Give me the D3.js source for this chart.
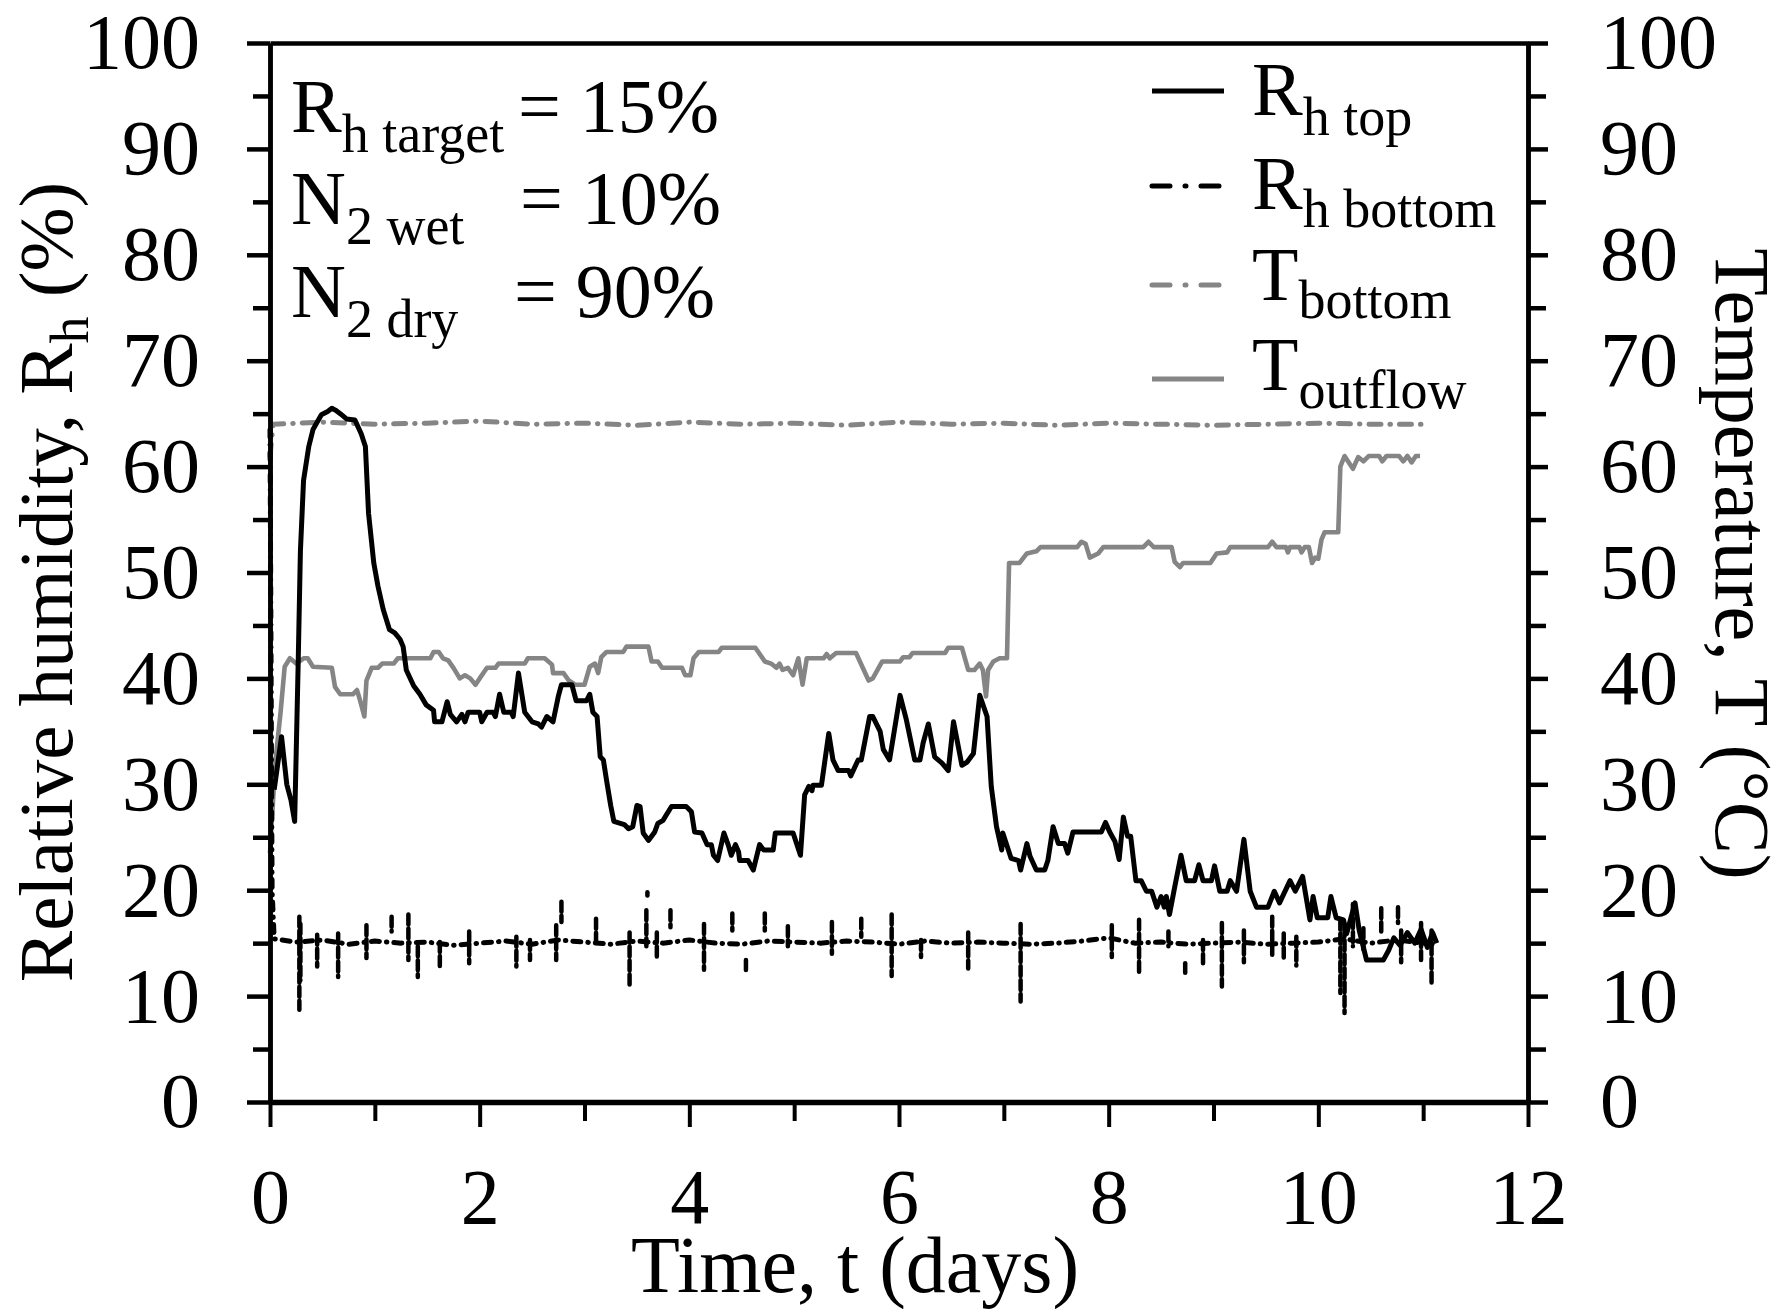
<!DOCTYPE html>
<html>
<meta charset="utf-8">
<style type="text/css">
  body { margin: 0; background: #fff; }
  text { font-family: "Liberation Serif", "Times New Roman", serif; fill: #000; }
</style>
<body>
<svg width="1780" height="1309"></svg>
<script src="https://d3js.org/d3.v7.min.js"></script>
<script>

// values, [t (days), value]
const rhTop = [
  [0.04,29.5],[0.11,34.5],[0.16,30.0],[0.20,28.5],[0.235,26.5],[0.25,33],[0.27,42],[0.29,52],
  [0.32,58.7],[0.37,61.9],[0.41,63.5],[0.49,64.9],[0.55,65.2],[0.59,65.5],[0.63,65.3],[0.67,65.0],
  [0.73,64.5],[0.81,64.4],[0.87,63.1],[0.91,61.9],[0.94,55.6],[0.99,50.9],[1.03,48.7],[1.08,46.5],
  [1.14,44.6],[1.19,44.3],[1.24,43.7],[1.27,43.0],[1.30,40.8],[1.37,39.3],[1.43,38.5],[1.49,37.5],
  [1.56,37.0],[1.57,35.9],[1.64,35.9],[1.69,37.8],[1.72,36.6],[1.78,35.9],[1.83,36.6],[1.86,35.9],
  [1.89,36.8],[2.00,36.8],[2.02,35.9],[2.07,36.8],[2.13,36.8],[2.15,36.4],[2.19,38.5],[2.23,36.8],
  [2.30,36.8],[2.32,36.4],[2.37,40.5],[2.43,36.8],[2.50,35.9],[2.56,35.7],[2.59,35.4],[2.64,36.4],
  [2.70,35.9],[2.75,38.3],[2.78,39.4],[2.88,39.4],[2.92,37.9],[3.02,37.9],[3.05,38.5],[3.08,36.8],
  [3.12,36.4],[3.15,32.6],[3.18,32.3],[3.21,30.4],[3.25,28.0],[3.28,26.5],[3.38,26.2],[3.42,25.8],
  [3.46,26.0],[3.50,28.0],[3.53,27.9],[3.56,25.4],[3.61,24.7],[3.67,25.5],[3.70,26.3],[3.75,26.6],
  [3.78,27.1],[3.83,27.9],[3.97,27.9],[4.02,27.4],[4.05,25.5],[4.12,25.4],[4.17,24.3],[4.21,24.3],
  [4.23,23.3],[4.27,22.8],[4.33,25.4],[4.37,24.3],[4.40,23.3],[4.44,24.3],[4.47,23.6],[4.48,22.8],
  [4.56,22.8],[4.61,21.9],[4.67,24.3],[4.71,23.8],[4.80,23.8],[4.82,25.4],[4.99,25.4],[5.06,23.3],
  [5.10,29.0],[5.14,29.8],[5.17,29.4],[5.18,29.9],[5.26,29.9],[5.33,34.8],[5.37,32.3],[5.42,31.3],
  [5.52,31.3],[5.54,30.8],[5.61,32.3],[5.64,32.3],[5.72,36.4],[5.75,36.4],[5.82,35.0],[5.85,33.3],
  [5.91,32.3],[6.01,38.4],[6.07,36.1],[6.15,32.3],[6.20,32.3],[6.23,33.9],[6.28,35.7],[6.34,32.6],
  [6.41,32.0],[6.47,31.3],[6.52,35.9],[6.60,31.8],[6.65,32.1],[6.71,32.9],[6.77,38.4],[6.84,36.4],
  [6.88,29.8],[6.93,26.0],[6.98,23.8],[6.99,25.4],[7.07,23.0],[7.14,22.8],[7.16,21.9],[7.22,24.4],
  [7.25,23.2],[7.31,21.9],[7.39,21.9],[7.42,22.8],[7.47,26.0],[7.52,24.4],[7.58,24.4],[7.61,23.5],
  [7.66,25.5],[7.93,25.5],[7.97,26.4],[8.01,25.5],[8.06,24.6],[8.10,22.9],[8.14,26.9],[8.18,25.1],
  [8.21,25.1],[8.26,20.9],[8.31,20.9],[8.36,19.9],[8.41,19.9],[8.46,18.4],[8.50,19.4],[8.53,18.4],
  [8.55,19.4],[8.58,17.7],[8.63,20.3],[8.69,23.3],[8.74,20.9],[8.82,20.9],[8.86,22.4],[8.90,20.9],
  [8.98,20.9],[9.01,22.3],[9.06,19.9],[9.13,19.9],[9.16,20.9],[9.22,19.9],[9.29,24.8],[9.35,19.9],
  [9.41,18.4],[9.52,18.4],[9.58,19.9],[9.63,18.8],[9.73,20.9],[9.78,19.9],[9.85,21.3],[9.92,17.2],
  [9.95,19.4],[9.99,17.4],[10.09,17.4],[10.12,19.4],[10.17,17.4],[10.24,17.2],[10.27,15.9],[10.35,18.8],
  [10.39,16.2],[10.46,13.4],[10.62,13.4],[10.67,14.3],[10.72,15.5],[10.78,14.8],[10.85,16.0],[10.92,15.0],
  [10.98,16.3],[11.04,14.6],[11.09,16.0],[11.13,15.0]
];

const rhBottom = [
  [0,63.5],[0.02,20],[0.04,15.4],[0.25,15.1],[0.5,15.3],[0.75,14.9],[1.0,15.2],[1.25,15.0],
  [1.5,15.1],[1.75,14.8],[2.0,15.0],[2.25,15.2],[2.5,14.9],[2.75,15.3],[3.0,15.1],[3.25,14.9],
  [3.5,15.2],[3.75,15.0],[4.0,15.3],[4.25,15.0],[4.5,14.9],[4.75,15.2],[5.0,15.1],[5.25,15.0],
  [5.5,15.2],[5.75,15.1],[6.0,14.9],[6.25,15.2],[6.5,15.0],[6.75,15.1],[7.0,15.0],[7.25,14.9],
  [7.5,15.0],[7.75,15.2],[8.0,15.5],[8.25,15.0],[8.5,15.1],[8.75,14.9],[9.0,15.0],[9.25,15.1],
  [9.5,14.9],[9.75,15.0],[10.0,15.1],[10.25,15.4],[10.5,15.0],[10.75,15.3],[11.0,15.0],[11.12,14.9]
];

// short excursions of the bottom sensor, [t, high, low]
const rhBottomSpikes = [
  [0.28,17.5,8.7],[0.29,16.8,11.5],[0.45,15.8,12.8],[0.65,15.9,11.8],[0.92,16.7,13.6],[1.16,17.5,16.1],
  [1.32,17.7,13.4],[1.41,14.7,11.8],[1.62,15.1,12.5],[1.90,16.1,13.1],[2.35,15.6,12.8],[2.48,15.3,13.4],
  [2.73,16.7,13.4],[2.78,18.9,17.0],[3.11,17.3,14.7],[3.43,16.0,10.9],[3.59,18.1,14.7],[3.60,19.8,19.5],
  [3.69,16.0,13.7],[3.82,18.1,16.5],[4.14,16.8,12.5],[4.41,17.8,16.2],[4.54,13.4,12.2],[4.72,17.8,16.2],
  [4.94,16.6,14.7],[5.36,17.0,14.0],[5.64,17.3,15.6],[5.93,17.7,11.9],[6.21,15.3,13.7],[6.66,16.0,12.6],
  [7.16,16.8,9.5],[8.03,16.7,13.7],[8.29,17.2,12.2],[8.57,16.1,14.7],[8.73,13.1,12.2],[8.90,15.3,13.1],
  [9.08,16.9,10.9],[9.29,16.2,13.2],[9.56,17.5,13.7],[9.67,15.9,13.4],[9.79,15.6,12.9],[10.21,17.2,10.3],
  [10.25,16.6,8.4],[10.33,18.7,14.7],[10.43,16.4,14.4],[10.60,18.3,16.1],[10.76,18.4,16.9],[10.79,16.2,13.2],
  [10.98,16.9,13.4],[11.08,16.2,11.2]
];

const tBottom = [
  [0,61],[0.03,64.0],[0.5,64.2],[1.0,64.0],[1.5,64.1],[2.0,64.3],[2.5,64.0],[3.0,64.1],[3.5,63.9],
  [4.0,64.2],[4.5,64.0],[5.0,64.1],[5.5,63.9],[6.0,64.2],[6.5,64.0],[7.0,64.1],[7.5,63.9],[8.0,64.1],
  [8.5,64.0],[9.0,63.9],[9.5,64.0],[10.0,64.1],[10.5,64.0],[11.03,64.0]
];

const tOutflow = [
  [0.0,23.5],[0.05,32],[0.10,36.7],[0.14,41.1],[0.19,41.9],[0.25,41.4],[0.32,41.9],[0.36,41.9],
  [0.41,41.1],[0.59,41.0],[0.62,39.2],[0.67,38.5],[0.79,38.5],[0.83,38.9],[0.86,37.9],[0.90,36.4],
  [0.92,39.8],[0.97,41.0],[1.03,41.0],[1.07,41.4],[1.18,41.4],[1.22,41.9],[1.53,41.9],[1.56,42.5],
  [1.61,42.5],[1.65,41.9],[1.70,41.7],[1.75,41.0],[1.81,40.0],[1.86,40.3],[1.91,40.0],[1.96,39.4],
  [2.00,40.0],[2.07,41.0],[2.15,41.0],[2.18,41.4],[2.43,41.4],[2.46,41.9],[2.62,41.9],[2.69,41.3],
  [2.70,40.5],[2.80,40.5],[2.85,39.8],[2.91,39.4],[3.00,39.4],[3.05,41.1],[3.10,41.4],[3.13,40.5],
  [3.16,42.0],[3.21,42.5],[3.37,42.5],[3.40,43.0],[3.61,43.0],[3.64,41.6],[3.70,41.6],[3.74,41.0],
  [3.93,41.0],[3.96,40.3],[4.01,40.3],[4.04,41.9],[4.09,42.5],[4.28,42.5],[4.31,42.9],[4.63,42.9],
  [4.72,41.6],[4.78,41.4],[4.83,41.0],[4.86,41.4],[4.89,40.8],[4.94,41.0],[4.99,40.3],[5.04,41.9],
  [5.08,39.4],[5.12,41.9],[5.28,41.9],[5.31,42.3],[5.34,41.9],[5.40,42.4],[5.59,42.4],[5.71,39.8],
  [5.75,40.0],[5.84,41.6],[6.01,41.6],[6.04,42.0],[6.10,42.0],[6.13,42.4],[6.44,42.4],[6.47,42.9],
  [6.60,42.9],[6.66,40.8],[6.72,40.8],[6.77,41.4],[6.80,40.8],[6.83,38.3],[6.85,40.8],[6.90,41.6],
  [6.96,41.9],[7.03,41.9],[7.05,50.9],[7.15,50.9],[7.22,51.8],[7.31,52.0],[7.35,52.4],[7.70,52.4],
  [7.74,52.9],[7.78,52.7],[7.82,51.4],[7.90,51.8],[7.95,52.4],[8.33,52.4],[8.38,52.9],[8.43,52.4],
  [8.60,52.4],[8.63,51.0],[8.68,50.5],[8.71,50.9],[8.97,50.9],[9.03,51.8],[9.13,51.9],[9.16,52.4],
  [9.52,52.4],[9.56,52.9],[9.60,52.4],[9.69,52.4],[9.71,51.9],[9.73,52.4],[9.82,52.4],[9.84,51.9],
  [9.87,52.4],[9.91,52.4],[9.94,50.9],[9.97,51.4],[10.0,51.3],[10.03,53.1],[10.06,53.8],[10.19,53.8],
  [10.21,60.0],[10.25,61.0],[10.33,59.8],[10.38,60.9],[10.43,60.5],[10.48,61.0],[10.58,61.0],[10.61,60.5],
  [10.65,61.0],[10.77,61.0],[10.81,60.5],[10.85,61.0],[10.89,60.4],[10.93,61.0],[10.97,61.0]
];

const xTicks = [0, 2, 4, 6, 8, 10, 12];
const xMinorTicks = [1, 3, 5, 7, 9, 11];
const yTicks = [0, 10, 20, 30, 40, 50, 60, 70, 80, 90, 100];
const yMinorTicks = [5, 15, 25, 35, 45, 55, 65, 75, 85, 95];

const legendLabels = [['R', 'h top'], ['R', 'h bottom'], ['T', 'bottom'], ['T', 'outflow']];
const noteLabels = [['R', 'h target', '= 15%'], ['N', '2 wet', '= 10%'], ['N', '2 dry', '= 90%']];

const svg = d3.select('svg');
const width = +svg.attr('width');
const height = +svg.attr('height');
const margin = {top: 43, right: 252, bottom: 207, left: 270};
const GREY = '#858585';
const FONT = '"Liberation Serif", "Times New Roman", serif';

svg.append('rect').attr('width', width).attr('height', height).attr('fill', '#fff');

const x = d3.scaleLinear().domain([0, 12]).range([margin.left, width - margin.right]);
const y = d3.scaleLinear().domain([0, 100]).range([height - margin.bottom, margin.top]);

// data lines first, frame on top
const line = d3.line().x(d => x(d[0])).y(d => y(d[1]));
const plotG = svg.append('g').attr('fill', 'none').attr('stroke-linejoin', 'round');

plotG.append('path').datum(tBottom).attr('d', line)
  .attr('stroke', GREY).attr('stroke-width', 5)
  .attr('stroke-linecap', 'round').attr('stroke-dasharray', '12,9,0.5,9');
plotG.append('path').datum(tOutflow).attr('d', line)
  .attr('stroke', GREY).attr('stroke-width', 4.6);
plotG.append('path').datum(rhTop).attr('d', line)
  .attr('stroke', '#000').attr('stroke-width', 5);
plotG.append('path').datum(rhBottom).attr('d', line)
  .attr('stroke', '#000').attr('stroke-width', 5)
  .attr('stroke-linecap', 'round').attr('stroke-dasharray', '8,7,0.5,7');
plotG.selectAll('.spike').data(rhBottomSpikes).join('line')
  .attr('class', 'spike')
  .attr('x1', d => x(d[0])).attr('x2', d => x(d[0]))
  .attr('y1', d => y(d[1])).attr('y2', d => y(d[2]))
  .attr('stroke', '#000').attr('stroke-width', 4.5)
  .attr('stroke-linecap', 'round').attr('stroke-dasharray', '10,4');

// axes
function styleAxis(g, w) {
  g.attr('font-family', FONT).attr('font-size', 78);
  g.selectAll('.tick line').attr('stroke-width', w);
  g.select('.domain').attr('stroke-width', w);
}

svg.append('g').attr('transform', `translate(${x(0)},0)`)
  .call(d3.axisLeft(y).tickValues(yTicks).tickSize(23).tickSizeOuter(0).tickPadding(47))
  .call(g => styleAxis(g, 4.5));
svg.append('g').attr('transform', `translate(${x(0)},0)`)
  .call(d3.axisLeft(y).tickValues(yMinorTicks).tickSize(17).tickSizeOuter(0).tickFormat(''))
  .call(g => styleAxis(g, 4.5));
svg.append('g').attr('transform', `translate(${x(12)},0)`)
  .call(d3.axisRight(y).tickValues(yTicks).tickSize(20).tickSizeOuter(0).tickPadding(52))
  .call(g => styleAxis(g, 4.5));
svg.append('g').attr('transform', `translate(${x(12)},0)`)
  .call(d3.axisRight(y).tickValues(yMinorTicks).tickSize(18).tickSizeOuter(0).tickFormat(''))
  .call(g => styleAxis(g, 4.5));
svg.append('g').attr('transform', `translate(0,${y(0)})`)
  .call(d3.axisBottom(x).tickValues(xTicks).tickSize(25).tickSizeOuter(0).tickPadding(41))
  .call(g => styleAxis(g, 4))
  .call(g => g.select('.domain').attr('stroke-width', 5.5));
svg.append('g').attr('transform', `translate(0,${y(0)})`)
  .call(d3.axisBottom(x).tickValues(xMinorTicks).tickSize(19).tickSizeOuter(0).tickFormat(''))
  .call(g => styleAxis(g, 4));
svg.append('g').attr('transform', `translate(0,${y(100)})`)
  .call(d3.axisTop(x).tickValues([]).tickSizeOuter(0))
  .call(g => styleAxis(g, 4.5));

// text with a subscript part
function subText(g, px, py, main, sub, drop) {
  const t = g.append('text').attr('x', px).attr('y', py).attr('font-size', 76);
  t.append('tspan').text(main);
  t.append('tspan').attr('font-size', 54).attr('dy', drop).text(sub);
  return t;
}

// axis titles
svg.append('text').attr('x', 855).attr('y', 1292)
  .attr('text-anchor', 'middle').attr('font-size', 80).text('Time, t (days)');

const leftTitle = svg.append('text')
  .attr('transform', 'translate(72,582) rotate(-90)')
  .attr('text-anchor', 'middle').attr('font-size', 77);
leftTitle.append('tspan').text('Relative humidity, R');
leftTitle.append('tspan').attr('font-size', 54).attr('dy', 16).text('h');
leftTitle.append('tspan').attr('dy', -16).text(' (%)');

svg.append('text')
  .attr('transform', 'translate(1716,564) rotate(90)')
  .attr('text-anchor', 'middle').attr('font-size', 78).text('Temperature, T (°C)');

// legend
const legendStyle = [
  {stroke: '#000', dash: null},
  {stroke: '#000', dash: '18,15,1,15'},
  {stroke: GREY, dash: '18,15,1,15'},
  {stroke: GREY, dash: null}
];
const legendLineY = [91, 186, 285, 379];
const legendBaseY = [115, 209, 300, 390];
const legendDrop = [20, 18, 18, 18];
const legendG = svg.append('g');
legendLabels.forEach((d, i) => {
  legendG.append('line')
    .attr('x1', 1152).attr('x2', 1224).attr('y1', legendLineY[i]).attr('y2', legendLineY[i])
    .attr('stroke', legendStyle[i].stroke).attr('stroke-width', 5)
    .attr('stroke-linecap', legendStyle[i].dash ? 'round' : 'butt')
    .attr('stroke-dasharray', legendStyle[i].dash);
  subText(legendG, 1252, legendBaseY[i], d[0], d[1], legendDrop[i]);
});

// conditions block
const noteG = svg.append('g');
const noteBaseY = [132, 224, 317];
const noteEqX = [518, 520, 514];
noteLabels.forEach((d, i) => {
  subText(noteG, 291, noteBaseY[i], d[0], d[1], 20);
  noteG.append('text').attr('x', noteEqX[i]).attr('y', noteBaseY[i])
    .attr('font-size', 76).text(d[2]);
});

</script>
</body>
</html>
